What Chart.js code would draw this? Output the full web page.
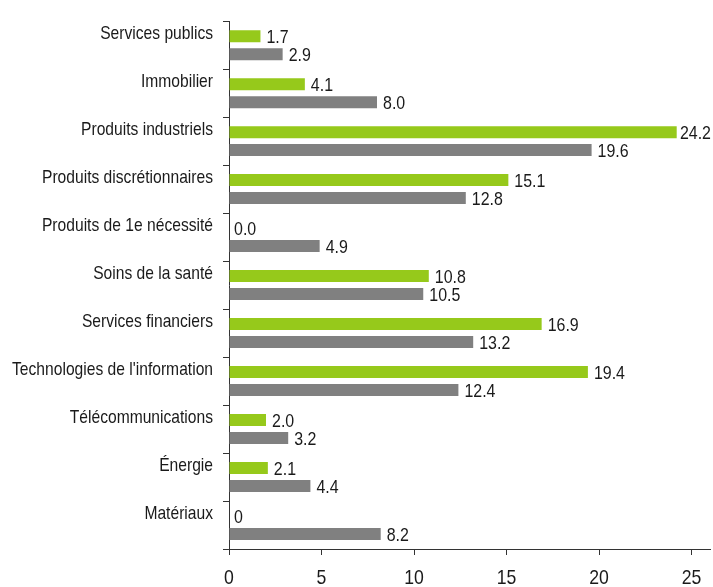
<!DOCTYPE html>
<html><head><meta charset="utf-8">
<script src="https://cdn.jsdelivr.net/npm/chart.js@4/dist/chart.umd.min.js"></script>
<style>html,body{margin:0;padding:0;background:#fff}#wrap{width:713px;height:587px}</style>
</head><body><div id="wrap"><canvas id="c" width="713" height="587"></canvas></div>
<script>
const categories = ["Services publics","Immobilier","Produits industriels","Produits discrétionnaires","Produits de 1e nécessité","Soins de la santé","Services financiers","Technologies de l'information","Télécommunications","Énergie","Matériaux"];
const greenValues = [1.7,4.1,24.2,15.1,0.0,10.8,16.9,19.4,2.0,2.1,0];
const greyValues = [2.9,8.0,19.6,12.8,4.9,10.5,13.2,12.4,3.2,4.4,8.2];
const greenLabels = ["1.7","4.1","24.2","15.1","0.0","10.8","16.9","19.4","2.0","2.1","0"];
const greyLabels = ["2.9","8.0","19.6","12.8","4.9","10.5","13.2","12.4","3.2","4.4","8.2"];
const xTicks = [0,5,10,15,20,25];

const FONT = "'Liberation Sans', Arial, sans-serif";
const SQUEEZE = 0.84;

// condensed text: every fillText on this chart is compressed horizontally around its anchor
const condensePlugin = {
  id: 'condense',
  beforeDraw(chart) {
    const ctx = chart.ctx;
    if (ctx.__condensed) return;
    const orig = ctx.fillText.bind(ctx);
    ctx.fillText = function (text, x, y, maxWidth) {
      ctx.save();
      ctx.translate(x, y);
      ctx.scale(SQUEEZE, 1);
      if (maxWidth !== undefined) orig(text, 0, 0, maxWidth / SQUEEZE); else orig(text, 0, 0);
      ctx.restore();
    };
    ctx.__condensed = true;
  }
};

const labelPlugin = {
  id: 'barLabels',
  afterDatasetsDraw(chart) {
    const ctx = chart.ctx;
    ctx.save();
    ctx.font = "19px " + FONT;
    ctx.fillStyle = "#1a1a1a";
    ctx.textAlign = "left";
    ctx.textBaseline = "middle";
    const sets = [greenLabels, greyLabels];
    chart.data.datasets.forEach((ds, di) => {
      const meta = chart.getDatasetMeta(di);
      meta.data.forEach((bar, i) => {
        const txt = sets[di][i];
        const w = ctx.measureText(txt).width * SQUEEZE;
        let x = bar.x + (bar.x - bar.base > 1 ? 6 : 5);
        x = Math.min(x, chart.width - w - 2);
        ctx.fillText(txt, x, bar.y + 1.5);
      });
    });
    ctx.restore();
  }
};

new Chart(document.getElementById('c'), {
  type: 'bar',
  data: {
    labels: categories,
    datasets: [
      { data: greenValues, backgroundColor: '#96C91B', categoryPercentage: 0.75, barPercentage: 0.667 },
      { data: greyValues, backgroundColor: '#808080', categoryPercentage: 0.75, barPercentage: 0.667 }
    ]
  },
  options: {
    indexAxis: 'y',
    responsive: false,
    animation: false,
    layout: { padding: { top: 18, right: 3, left: 0, bottom: 0 } },
    plugins: { legend: { display: false }, tooltip: { enabled: false } },
    scales: {
      x: {
        min: 0, max: 26,
        afterBuildTicks(scale) { scale.ticks = xTicks.map(v => ({ value: v })); },
        afterFit(scale) { scale.height = 38; scale.paddingRight = 0; scale.paddingLeft = 0; },
        grid: { drawOnChartArea: false, drawTicks: true, tickLength: 6, color: '#333' },
        border: { display: true, color: '#333', width: 1 },
        ticks: { color: '#1a1a1a', font: { size: 21, family: FONT }, padding: 11, maxRotation: 0 }
      },
      y: {
        afterFit(scale) { scale.width = 229; },
        grid: { drawOnChartArea: false, drawTicks: true, tickLength: 6, color: '#333', offset: true },
        border: { display: true, color: '#333', width: 1 },
        ticks: { color: '#1a1a1a', font: { size: 18.6, family: FONT }, padding: 10, labelOffset: -11 }
      }
    }
  },
  plugins: [condensePlugin, labelPlugin]
});
</script>
</body></html>
